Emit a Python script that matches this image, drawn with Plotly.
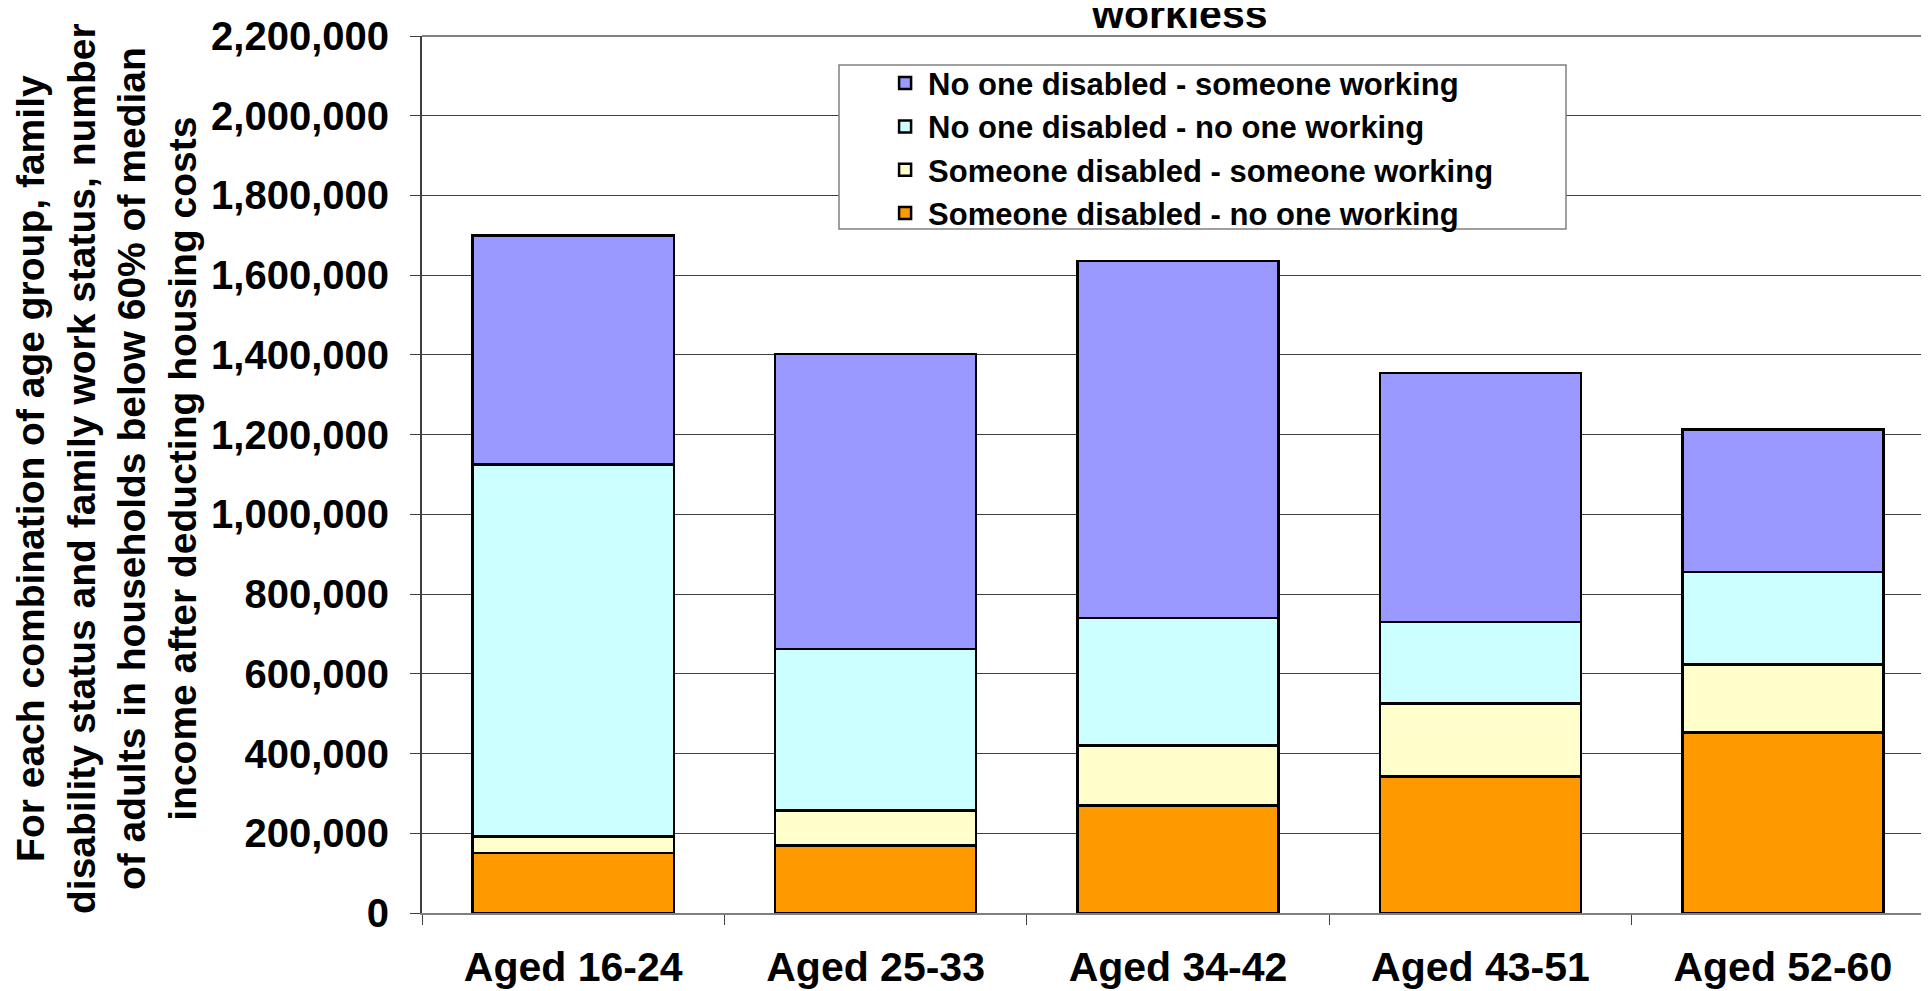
import plotly.graph_objects as go

categories = ["Aged 16-24", "Aged 25-33", "Aged 34-42", "Aged 43-51", "Aged 52-60"]
sd_nw = [151000, 169000, 270000, 342000, 453000]   # Someone disabled - no one working
sd_sw = [41000, 88000, 150000, 184000, 171000]     # Someone disabled - someone working
nd_nw = [933000, 405000, 320000, 204000, 232000]   # No one disabled - no one working
nd_sw = [574000, 740000, 895000, 625000, 357000]   # No one disabled - someone working

series = [
    ("Someone disabled - no one working", sd_nw, "#FF9900"),
    ("Someone disabled - someone working", sd_sw, "#FFFFCC"),
    ("No one disabled - no one working", nd_nw, "#CCFFFF"),
    ("No one disabled - someone working", nd_sw, "#9999FF"),
]

y_ticks = list(range(0, 2200001, 200000))
y_tick_text = [f"{v:,}" for v in y_ticks]

FONT = "Liberation Sans, Arial, sans-serif"

fig = go.Figure()
for name, vals, col in series:
    fig.add_trace(go.Bar(
        x=categories, y=vals, name=name,
        marker=dict(color=col, line=dict(color="#000000", width=2.5)),
    ))

# page body has an 8px margin; figure sized so the plot sits where the reference has it
W, H = 1921, 983
L, R, T, B = 414, 0, 28, 78
PW, PH = W - L - R, H - T - B        # 1507 x 877
SX, SY = 8 + L, 8 + T                 # plot-area top-left on screen


def px(xs):
    return (xs - SX) / PW


def py(ys):
    return (SY + PH - ys) / PH


fig.update_layout(
    width=W, height=H,
    margin=dict(l=L, r=R, t=T, b=B, pad=0, autoexpand=False),
    barmode="stack",
    bargap=0.335,
    plot_bgcolor="white",
    paper_bgcolor="white",
    font=dict(family=FONT, color="black"),
    showlegend=True,
    legend=dict(
        x=0.3053, y=0.9767, xanchor="left", yanchor="top",
        traceorder="reversed",
        bgcolor="rgba(0,0,0,0)",
        borderwidth=0,
        font=dict(family=FONT, size=31, weight="bold", color="black"),
        itemwidth=36,
        tracegroupgap=0,
    ),
    xaxis=dict(
        range=[-0.5, 4.5 - 5 / 302.3],
        type="category",
        showgrid=False,
        showline=True, linecolor="#808080", linewidth=2,
        ticks="outside", tickson="boundaries", ticklen=10, tickcolor="#404040",
        tickfont=dict(family=FONT, size=41, weight="bold", color="black"),
        ticklabelstandoff=17,
        automargin=False,
    ),
    yaxis=dict(
        range=[0, 2200000],
        tickvals=y_ticks, ticktext=y_tick_text,
        showgrid=True, gridcolor="#404040", gridwidth=1,
        showline=True, linecolor="#404040", linewidth=2,
        ticks="outside", ticklen=10, tickcolor="#404040",
        tickfont=dict(family=FONT, size=40, weight="bold", color="black"),
        ticklabelstandoff=13,
        zeroline=False,
        automargin=False,
    ),
    shapes=[
        dict(type="line", xref="paper", yref="paper", x0=0, x1=1, y0=1, y1=1,
             line=dict(color="#808080", width=2), layer="above"),
        dict(type="rect", xref="paper", yref="paper",
             x0=px(839), x1=px(1566), y0=py(229), y1=py(65),
             fillcolor="white", line=dict(color="#808080", width=1.5), layer="above"),
    ],
    annotations=[
        dict(text="workless", xref="paper", yref="paper",
             x=px(1179), y=0.997,
             xanchor="center", yanchor="bottom", showarrow=False,
             font=dict(family=FONT, size=41, weight="bold", color="black")),
        dict(text="For each combination of age group, family<br>"
                  "disability status and family work status, number<br>"
                  "of adults in households below 60% of median<br>"
                  "income after deducting housing costs",
             xref="paper", yref="paper",
             x=px(106), y=py(469),
             xanchor="center", yanchor="middle", showarrow=False, textangle=-90,
             align="center",
             font=dict(family=FONT, size=39, weight="bold", color="black")),
    ],
)

fig.write_html("out.html")
